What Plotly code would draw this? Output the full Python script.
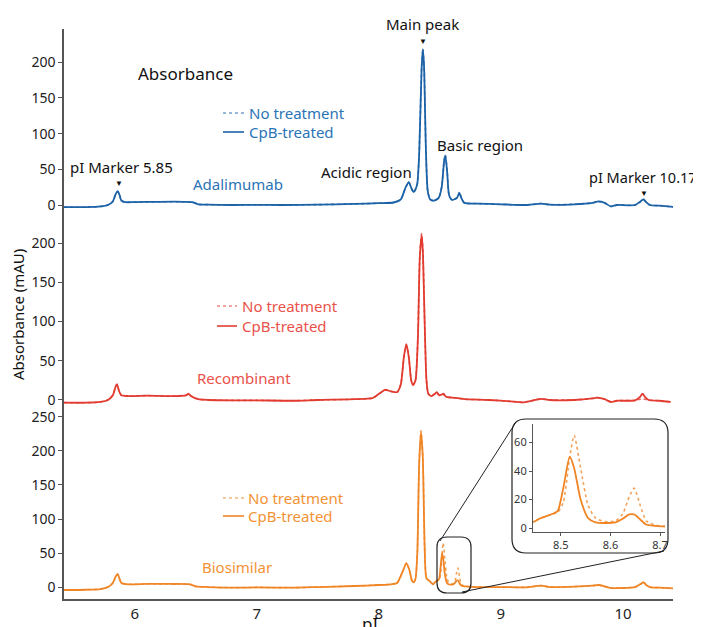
import plotly.graph_objects as go

# ---------------- data ----------------
ada_x = [5.42, 5.60, 5.72, 5.78, 5.82, 5.845, 5.86, 5.875, 5.89, 5.92, 6.0, 6.2, 6.4, 6.47, 6.52, 6.6, 6.8, 7.0, 7.2, 7.5, 7.8, 8.0,
         8.12, 8.18, 8.22, 8.245, 8.27, 8.285, 8.30, 8.315, 8.33, 8.35, 8.36, 8.37, 8.385, 8.40, 8.42, 8.45, 8.49, 8.515,
         8.535, 8.545, 8.56, 8.575, 8.60, 8.64, 8.66, 8.675, 8.70, 8.8, 9.0, 9.2, 9.33, 9.4, 9.6, 9.75, 9.8, 9.85, 9.9,
         9.95, 10.1, 10.15, 10.17, 10.19, 10.22, 10.3, 10.41]
ada_cpb = [-3, -3, -2, 0, 5, 16, 19.5, 14, 6, 4, 4, 4.5, 4.5, 4, 1, 0.5, 0, 0.3, 0, 0.5, 1.5, 2.5,
           3.5, 8, 25, 32, 22, 18, 22, 30, 70, 190, 218, 195, 80, 20, 8, 6, 10, 25,
           62, 69, 45, 14, 7, 10, 17, 10, 3, 2, 1, 0, 2, 0.5, 1, 3, 5, 3, -2,
           0, 0, 6, 8, 4, 0, -1, -2.5]
ada_none = [-3, -3, -2, 0, 5, 16, 19, 14, 6, 4, 4, 4.5, 4.5, 4, 1, 0.5, 0, 0.3, 0, 0.5, 1.5, 2.5,
            3.5, 8, 25, 32, 22, 18, 22, 30, 70, 192, 219, 196, 80, 20, 8, 6, 10, 26,
            63, 70, 46, 14, 7, 10, 18, 10, 3, 2, 1, 0, 2, 0.5, 1, 3, 5, 3, -2,
            0, 0, 5, 7, 4, 0, -1, -2.5]

rec_x = [5.42, 5.60, 5.72, 5.78, 5.82, 5.845, 5.855, 5.87, 5.89, 5.95, 6.1, 6.3, 6.42, 6.44, 6.46, 6.52, 6.6, 6.8, 7.0, 7.3,
         7.5, 7.8, 7.95, 8.02, 8.05, 8.10, 8.15, 8.18, 8.205, 8.225, 8.245, 8.265, 8.28, 8.30, 8.32, 8.335, 8.35, 8.36,
         8.375, 8.39, 8.405, 8.43, 8.46, 8.475, 8.495, 8.515, 8.53, 8.55, 8.60, 8.66, 8.70, 8.9, 9.1, 9.18, 9.28, 9.33,
         9.4, 9.6, 9.75, 9.79, 9.85, 9.9, 9.95, 10.1, 10.14, 10.16, 10.18, 10.21, 10.3, 10.39]
rec_cpb = [-3.4, -3.5, -2.5, 0, 6, 18, 20, 12, 6, 5, 5.5, 5, 6, 8, 5, 1, 0, -0.5, -0.5, -1,
           0, 1, 2.5, 10, 13, 11, 10, 20, 55, 71, 55, 25, 19, 25, 80, 180, 210, 190,
           100, 25, 8, 5, 8, 10, 6, 7, 8, 4, 3, 2, 1, 0, -2, -3, 0, 1.5,
           0, 0, 2, 3, 1, -2.5, -1, -0.5, 4, 8, 4, 0, -1, -2.5]
rec_none = [-3.4, -3.5, -2.5, 0, 6, 18, 20, 12, 6, 5, 5.5, 5, 6, 7, 5, 1, 0, -0.5, -0.5, -1,
            0, 1, 2.5, 10, 13, 11, 10, 20, 55, 70, 55, 25, 19, 25, 82, 182, 212, 192,
            102, 25, 8, 5, 8, 9, 6, 7, 7, 4, 3, 2, 1, 0, -2, -3, 0, 1.5,
            0, 0, 2, 3, 1, -2.5, -1, -0.5, 1, 2, 1, 0, -1, -2.5]

bio_x = [5.42, 5.60, 5.72, 5.78, 5.82, 5.845, 5.86, 5.875, 5.89, 5.95, 6.1, 6.3, 6.45, 6.50, 6.6, 6.8, 7.0, 7.3, 7.5, 7.8,
         8.0, 8.10, 8.15, 8.20, 8.225, 8.25, 8.27, 8.285, 8.30, 8.315, 8.33, 8.345, 8.36, 8.375, 8.39, 8.42, 8.442, 8.46,
         8.484, 8.494, 8.505, 8.518, 8.527, 8.54, 8.555, 8.57, 8.59, 8.61, 8.625, 8.638, 8.648, 8.66, 8.672, 8.69, 8.715,
         8.8, 9.0, 9.2, 9.33, 9.4, 9.6, 9.75, 9.8, 9.85, 9.9, 10.1, 10.15, 10.17, 10.19, 10.22, 10.3, 10.41]
bio_cpb = [-4.4, -4, -3, 0, 6, 16, 19, 12, 6, 4, 4.5, 4.5, 4, 1, 0, -1, -0.5, -1, 0, 1.5,
           3, 4, 6, 25, 35, 25, 10, 7, 12, 50, 180, 228, 190, 60, 13, 8, 4, 7,
           10, 12, 28, 50, 42, 20, 7, 4, 3.5, 4, 6.5, 9.5, 9.5, 6, 2.5, 1.5, 1,
           0, 0, -0.5, 2, 0, 0.5, 2, 3, 1, -1.5, 0, 5, 7, 3, 0, -1, -2]
bio_none = [-4.4, -4, -3, 0, 6, 16, 19, 12, 6, 4, 4.5, 4.5, 4, 1, 0, -1, -0.5, -1, 0, 1.5,
            3, 4, 6, 25, 35, 25, 10, 7, 12, 50, 182, 230, 192, 60, 13, 8, 4.5, 7,
            10, 11, 18, 50, 65, 42, 16, 7, 4.5, 5, 10, 22, 28, 16, 5, 2, 1,
            0, 0, -0.5, 2, 0, 0.5, 2, 3, 1, -1.5, 0, 5, 7, 3, 0, -1, -2]

main_ticks_top = [0, 50, 100, 150, 200]
main_ticks_mid = [0, 50, 100, 150, 200]
main_ticks_bot = [0, 50, 100, 150, 200, 250]
x_ticks = [6, 7, 8, 9, 10]
inset_x_ticks = [8.5, 8.6, 8.7]
inset_y_ticks = [0, 20, 40, 60]

# ---------------- styling ----------------
W, H = 701, 627
OFF = 8  # page body margin offset in the browser
PL, PT, PR, PB = 64, 29, 673, 599  # plot area in visible window pixels
L, T = PL - OFF, PT - OFF
PW, PH = PR - PL, PB - PT
R, B = W - L - PW, H - T - PH
FONT = "Noto Sans"

def px(xp):
    return (xp - PL) / PW

def py(yp):
    return (PB - yp) / PH

BLUE, BLUE_T = "#1c62a6", "#2a74b6"
RED, RED_T = "#e23b30", "#e9514a"
ORA, ORA_T = "#f08526", "#f39234"

fig = go.Figure()

def add_pair(x, y_none, y_cpb, color, yax, xax="x"):
    fig.add_trace(go.Scatter(x=x, y=y_none, xaxis=xax, yaxis=yax, mode="lines",
                             line=dict(color=color, width=1.6, dash="dot", shape="spline", smoothing=0.6),
                             opacity=0.75, showlegend=False, hoverinfo="skip"))
    fig.add_trace(go.Scatter(x=x, y=y_cpb, xaxis=xax, yaxis=yax, mode="lines",
                             line=dict(color=color, width=1.8, shape="spline", smoothing=0.6),
                             showlegend=False, hoverinfo="skip"))

add_pair(ada_x, ada_none, ada_cpb, BLUE, "y")
add_pair(rec_x, rec_none, rec_cpb, RED, "y2")
add_pair(bio_x, bio_none, bio_cpb, ORA, "y3")
add_pair(bio_x, bio_none, bio_cpb, ORA, "y4", xax="x2")

axis_line = dict(showline=True, linecolor="#555", linewidth=1.5, showgrid=False, zeroline=False, automargin=False)
tickfont = dict(family=FONT, size=14, color="#222")

def ydom(ptop, pbot):
    return [py(pbot), py(ptop)]

inset_axis = dict(ticks="outside", ticklen=3, tickcolor="#555",
                  tickfont=dict(family=FONT, size=11, color="#333"), showline=True, linecolor="#555",
                  linewidth=1.2, showgrid=False, zeroline=False, automargin=False)

fig.update_layout(
    width=W, height=H, margin=dict(l=L, r=R, t=T, b=B, autoexpand=False),
    paper_bgcolor="white", plot_bgcolor="white", showlegend=False,
    xaxis=dict(domain=[0, 1], range=[5.42, 10.41], anchor="y3", tickvals=x_ticks,
               ticks="", tickfont=dict(family=FONT, size=15, color="#222"), **axis_line),
    yaxis=dict(domain=ydom(29, 212), range=[-9.8, 246.5], anchor="x", tickvals=main_ticks_top,
               ticks="outside", ticklen=4, tickcolor="#555", tickfont=tickfont, **axis_line),
    yaxis2=dict(domain=ydom(212, 405), range=[-6.4, 239.5], anchor="x", tickvals=main_ticks_mid,
                ticks="outside", ticklen=4, tickcolor="#555", tickfont=tickfont, **axis_line),
    yaxis3=dict(domain=ydom(405, 599), range=[-17.6, 267.6], anchor="x", tickvals=main_ticks_bot,
                ticks="outside", ticklen=4, tickcolor="#555", tickfont=tickfont, **axis_line),
    xaxis2=dict(domain=[px(533), px(665)], range=[8.444, 8.71], anchor="y4", tickvals=inset_x_ticks, **inset_axis),
    yaxis4=dict(domain=ydom(424, 532), range=[-2.8, 73], anchor="x2", tickvals=inset_y_ticks, **inset_axis),
)

def rounded(x0, y0, x1, y1, r):
    def P(xp, yp):
        return f"{px(xp):.5f},{py(yp):.5f}"
    return (f"M {P(x0 + r, y0)} L {P(x1 - r, y0)} Q {P(x1, y0)} {P(x1, y0 + r)} "
            f"L {P(x1, y1 - r)} Q {P(x1, y1)} {P(x1 - r, y1)} L {P(x0 + r, y1)} "
            f"Q {P(x0, y1)} {P(x0, y1 - r)} L {P(x0, y0 + r)} Q {P(x0, y0)} {P(x0 + r, y0)} Z")

shapes = []
shapes.append(dict(type="path", xref="paper", yref="paper", path=rounded(512, 419, 668, 553, 14),
                   line=dict(color="#222", width=1.2), fillcolor="rgba(0,0,0,0)", layer="above"))
shapes.append(dict(type="path", xref="paper", yref="paper", path=rounded(437, 537, 471, 593, 10),
                   line=dict(color="#222", width=1.2), fillcolor="rgba(0,0,0,0)", layer="above"))
shapes.append(dict(type="line", xref="paper", yref="paper", x0=px(440), y0=py(541), x1=px(516), y1=py(422),
                   line=dict(color="#222", width=1)))
shapes.append(dict(type="line", xref="paper", yref="paper", x0=px(462), y0=py(592), x1=px(664), y1=py(551),
                   line=dict(color="#222", width=1)))

# legend-like samples
for (xa, xb, yd, yc, col) in [(223, 244, 113, 132, BLUE), (217, 237, 306, 326, RED), (223, 244, 498, 516, ORA)]:
    shapes.append(dict(type="line", xref="paper", yref="paper", x0=px(xa), x1=px(xb), y0=py(yd), y1=py(yd),
                       line=dict(color=col, width=1.5, dash="dot"), opacity=0.6))
    shapes.append(dict(type="line", xref="paper", yref="paper", x0=px(xa), x1=px(xb), y0=py(yc), y1=py(yc),
                       line=dict(color=col, width=1.6)))
fig.update_layout(shapes=shapes)

ann = []
def text(t, xp, yp, size=15, color="#111", xanchor="center", angle=0):
    ann.append(dict(text=t, x=px(xp), y=py(yp), xref="paper", yref="paper", showarrow=False,
                    xanchor=xanchor, yanchor="middle", textangle=angle,
                    font=dict(family=FONT, size=size, color=color)))

text("Absorbance", 185, 73, size=17)
text("No treatment", 247, 113, color=BLUE_T, xanchor="left")
text("CpB-treated", 247, 132, color=BLUE_T, xanchor="left")
text("No treatment", 240, 306, color=RED_T, xanchor="left")
text("CpB-treated", 240, 326, color=RED_T, xanchor="left")
text("No treatment", 246, 498, color=ORA_T, xanchor="left")
text("CpB-treated", 246, 516, color=ORA_T, xanchor="left")
text("Adalimumab", 238, 184, color=BLUE_T)
text("Recombinant", 244, 378, color=RED_T)
text("Biosimilar", 237, 567, color=ORA_T)
text("pI Marker 5.85", 121, 167)
text("▼", 119, 183, size=8)
text("Acidic region", 366, 172)
text("Main peak", 423, 24)
text("▼", 423, 41, size=8)
text("Basic region", 480, 145)
text("pI Marker 10.17", 643, 177, size=14.5)
text("▼", 644, 192, size=8)
text("Absorbance (mAU)", 18, 315, size=15, angle=-90)
text("pI", 370, 623, size=17)
fig.update_layout(annotations=ann)

fig.write_html("out.html")
